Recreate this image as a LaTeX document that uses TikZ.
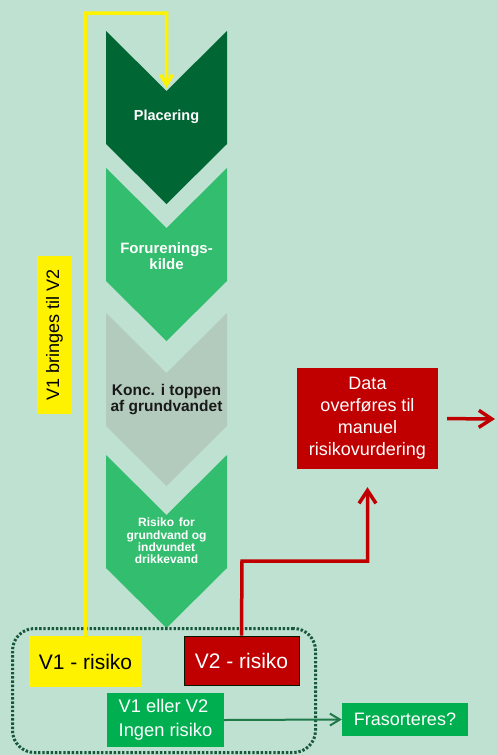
\documentclass[tikz,border=0pt]{standalone}
\usepackage{fontspec}
\setmainfont{Liberation Sans}
\usetikzlibrary{arrows.meta, positioning}
\definecolor{bg}{HTML}{BFE1D1}
\definecolor{chevdark}{HTML}{006633}
\definecolor{chevmid}{HTML}{33BD6E}
\definecolor{chevgrey}{HTML}{B3CBBC}
\definecolor{riskred}{HTML}{C00000}
\definecolor{boxgreen}{HTML}{00B050}
\definecolor{dotgreen}{HTML}{17573A}
\definecolor{arrgreen}{HTML}{1F7A4A}
\tikzset{
	bigbarb/.style={-{Straight Barb[length=13pt, width=17pt]}},
	smallbarb/.style={-{Straight Barb[length=10pt, width=12pt]}},
}

\begin{document}
\begin{tikzpicture}[x=1pt, y=-1pt, line join=miter]

		\fill[bg] (0,0) rectangle (497,755);
		\useasboundingbox (0,0) rectangle (497,755);

		\foreach \t/\c in {31/chevdark, 168/chevmid, 313/chevgrey, 455/chevmid}
		{\fill[\c] (106,\t) -- (166.5,\t+60) -- (227,\t) -- (227,\t+113)
			-- (166.5,\t+173) -- (106,\t+113) -- cycle;
		}
		\coordinate (notch) at (166.5,88);

		\node [text=white, font=\fontsize{14.5}{16}\selectfont\bfseries] (plc) at (166.5,117) {Placering};
		\node [text=white, align=center, font=\fontsize{15}{16}\selectfont\bfseries] (kilde) at (166.5,256) {Forurenings-\\kilde};
		\node [text=black!90, align=center, font=\fontsize{15.5}{16}\selectfont\bfseries] (konc) at (166.5,400) {Konc. i toppen\\af grundvandet};
		\node [text=white, align=center, font=\fontsize{12}{12.4}\selectfont\bfseries] (risk) at (166.5,541) {Risiko\hspace{0.4em}for\\grundvand og\\indvundet\\drikkevand};

		\node [draw=dotgreen, line width=3pt, dash pattern=on 2.4pt off 1.8pt, rounded corners=22pt,
			minimum width=303, minimum height=124] (grp) at (164,690.5) {};

		\node [fill=yellow, minimum width=113, minimum height=51, inner sep=0,
			font=\fontsize{21}{24}\selectfont] (v1) at (85.5,661.5) {V1 - risiko};
		\node [fill=riskred, draw=black!75!green!40!black, line width=1pt, text=white, minimum width=115,
			minimum height=49, inner sep=0, font=\fontsize{21}{24}\selectfont] (v2) at (241.5,660.5) {V2 - risiko};
		\node [fill=boxgreen, text=white, align=left, minimum width=117, minimum height=54, inner sep=0,
			font=\fontsize{18.3}{24}\selectfont] (none) at (165.5,720) {V1 eller V2\\Ingen risiko};
		\node [fill=boxgreen, text=white, minimum width=126, minimum height=33, inner sep=0,
			font=\fontsize{18}{22}\selectfont] (fras) at (405,719.5) {Frasorteres?};
		\node [fill=riskred, text=white, align=center, minimum width=141, minimum height=101, inner sep=0,
			font=\fontsize{18}{22}\selectfont] (data) at (367.5,418.5) {Data\\overføres til\\manuel\\risikovurdering};

		\node [fill=yellow, rotate=90, minimum width=158, minimum height=35, inner sep=0,
			font=\fontsize{18}{22}\selectfont] (label) at (54.5,335) {V1 bringes til V2};

		\coordinate (ytop) at (85,13);
		\coordinate (rbend) at (242,561);
		\coordinate (out) at (495,419);

		\draw[smallbarb, yellow, line width=3.5pt] (v1.north) -- (ytop) -| (notch);
		\draw[bigbarb, riskred, line width=3.5pt, shorten >=18pt] (v2.north) -- (rbend) -| (data.south);
		\draw[bigbarb, riskred, line width=3.5pt, shorten <=9pt] (data.east) -- (out);
		\draw[smallbarb, arrgreen, line width=2pt] (none.east) -- (fras.west);
		\end{tikzpicture}
\end{document}
